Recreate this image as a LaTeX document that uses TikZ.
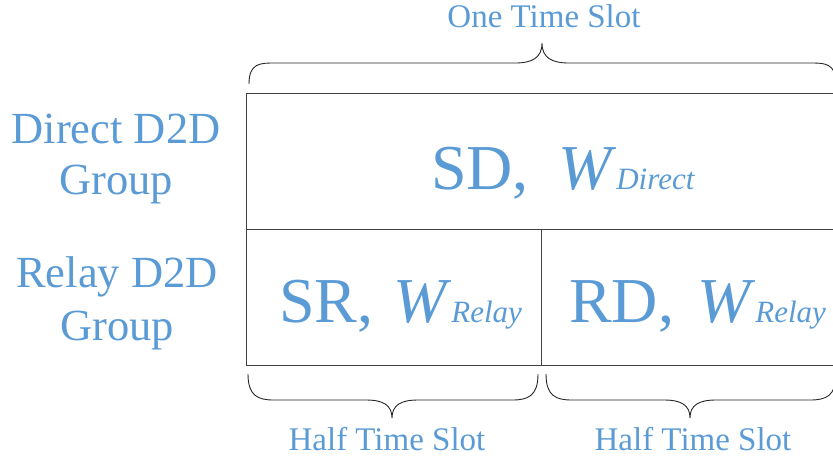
\documentclass[tikz,border=0pt]{standalone}
\usepackage{fontspec}
\setmainfont{Liberation Serif}
\definecolor{labelblue}{RGB}{91,155,213}
\newcommand{\subw}[1]{\fontsize{64}{70}\selectfont\textit{W}\fontsize{31}{36}\selectfont\textit{#1}}
\begin{document}
\begin{tikzpicture}[x=1pt,y=-1pt,
  lbl/.style={text=labelblue,inner sep=0pt,anchor=base,font=\fontsize{33}{36}\selectfont},
  side/.style={text=labelblue,inner sep=0pt,anchor=base,font=\fontsize{44.5}{48}\selectfont},
  cell/.style={text=labelblue,inner sep=0pt,anchor=base west,font=\fontsize{64}{70}\selectfont},
  frame/.style={draw=black!75,line width=0.9pt},
  bracket/.style={draw=black!85,line width=0.9pt}]
\useasboundingbox (0,0) rectangle (833,459);

% slot grid
\draw[frame] (246,93) rectangle (840,365);
\draw[frame] (246,229) -- (840,229);
\draw[frame] (541,229) -- (541,365);

% brace over the whole slot
\draw[bracket] (249,84) .. controls (249,63) and (260,63) .. (275,63)
  -- (515,63) .. controls (532,63) and (542,58) .. (542,43)
  .. controls (542,58) and (552,63) .. (569,63)
  -- (810,63) .. controls (825,63) and (836,63) .. (836,84);

% braces under the two half slots
\draw[bracket] (248,374) .. controls (248,396) and (258,400) .. (274,400)
  -- (366,400) .. controls (383,400) and (392,405) .. (392,418)
  .. controls (392,405) and (401,400) .. (418,400)
  -- (512,400) .. controls (528,400) and (538,396) .. (538,374);
\draw[bracket] (546,374) .. controls (546,396) and (556,400) .. (572,400)
  -- (664,400) .. controls (681,400) and (690,405) .. (690,418)
  .. controls (690,405) and (699,400) .. (716,400)
  -- (810,400) .. controls (826,400) and (836,396) .. (836,374);

% slot labels
\node[lbl] (one) at (544,27) {One Time Slot};
\node[lbl] (halfA) at (387,450) {Half Time Slot};
\node[lbl] (halfB) at (693,450) {Half Time Slot};

% group labels
\node[side] (direct) at (116,143) {Direct D2D};
\node[side] (groupA) at (116,194) {Group};
\node[side] (relay) at (117,287) {Relay D2D};
\node[side] (groupB) at (117,340) {Group};

% cell contents
\node[cell] (sd) at (431,189) {SD,};
\node[cell] (sdw) at (558,189) {\subw{Direct}};
\node[cell] (sr) at (279,322) {SR,};
\node[cell] (srw) at (393,322) {\subw{Relay}};
\node[cell] (rd) at (569,322) {RD,};
\node[cell] (rdw) at (697,322) {\subw{Relay}};
\end{tikzpicture}
\end{document}
